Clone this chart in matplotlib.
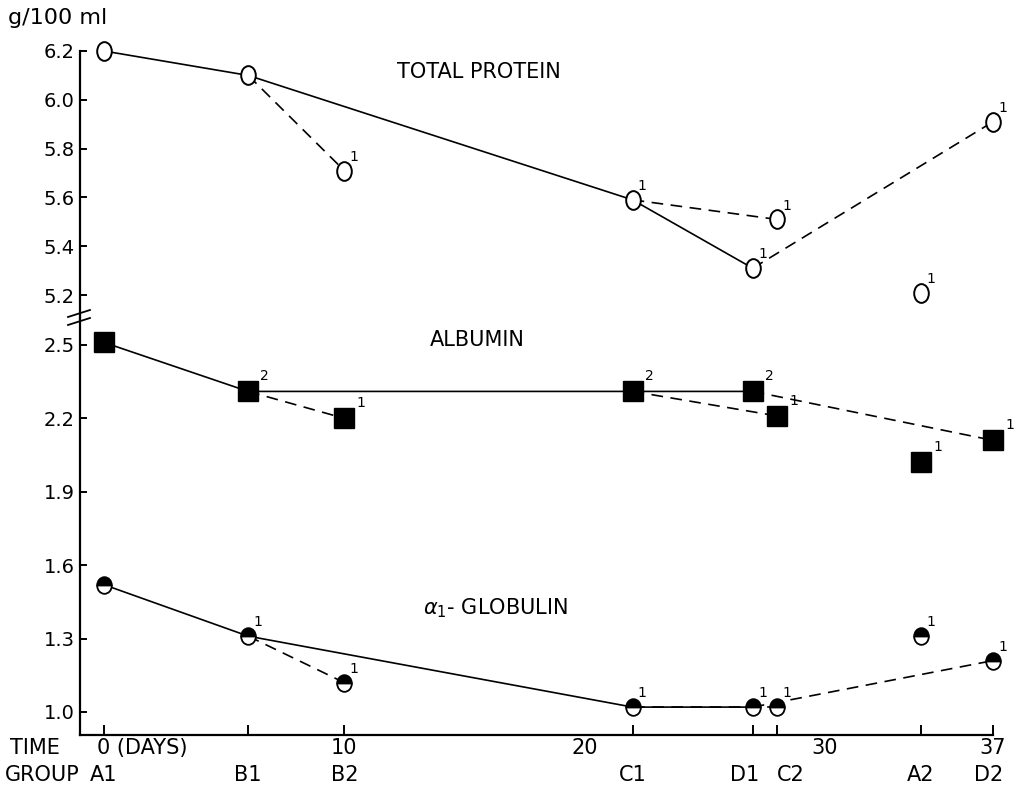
import numpy as np
import matplotlib
matplotlib.use("Agg")
import matplotlib.pyplot as plt
from matplotlib.markers import MarkerStyle
from matplotlib.transforms import Affine2D, blended_transform_factory

# serum protein fractions (g/100 ml) per group, sampled at the given day
days = [0, 6, 10, 22, 27, 28, 34, 37]
groups = ["A1", "B1", "B2", "C1", "D1", "C2", "A2", "D2"]
protein = [6.20, 6.10, 5.71, 5.59, 5.31, 5.51, 5.21, 5.91]
albumin = [2.51, 2.31, 2.20, 2.31, 2.31, 2.21, 2.02, 2.11]
globulin = [1.52, 1.31, 1.12, 1.02, 1.02, 1.02, 1.31, 1.21]
# small numbers written next to each point
protein_n = ["", "", "1", "1", "1", "1", "1", "1"]
albumin_n = ["", "2", "1", "2", "2", "1", "1", "1"]
globulin_n = ["", "1", "1", "1", "1", "1", "1", "1"]

solid_path = [0, 1, 3, 4]            # A1 -> B1 -> C1 -> D1
dashed_pairs = [(1, 2), (3, 5), (4, 7)]  # B1->B2, C1->C2, D1->D2

time_ticks = [0, 10, 20, 30, 37]
time_labels = ["0 (DAYS)", "10", "20", "30", "37"]
# nudge for group labels that sit close together (in days)
group_shift = [0, 0, 0, 0, -0.35, 0.6, 0, -0.2]

plt.rcParams["font.family"] = "DejaVu Sans"

fig = plt.figure(figsize=(10.15, 7.91), dpi=100)
W, H = 1015.0, 791.0
left, right = 80 / W, 993 / W
ax_t = fig.add_axes([left, (H - 318) / H, right - left, (318 - 51) / H])
ax_b = fig.add_axes([left, (H - 735) / H, right - left, (735 - 318) / H], sharex=ax_t)

ax_t.set_ylim(5.106, 6.2)
ax_b.set_ylim(0.906, 2.61)
ax_b.set_xlim(-1, 37)

for ax in (ax_t, ax_b):
    ax.spines["top"].set_visible(False)
    ax.spines["right"].set_visible(False)
    ax.spines["left"].set_linewidth(1.6)
    ax.spines["bottom"].set_linewidth(1.6)
    ax.tick_params(axis="y", direction="in", length=5, width=1.4,
                   labelsize=14, pad=4)
ax_t.spines["bottom"].set_visible(False)
ax_t.tick_params(axis="x", bottom=False, labelbottom=False)

ax_t.set_yticks([5.2, 5.4, 5.6, 5.8, 6.0, 6.2])
ax_t.set_yticklabels(["5.2", "5.4", "5.6", "5.8", "6.0", "6.2"])
ax_b.set_yticks([1.0, 1.3, 1.6, 1.9, 2.2, 2.5])
ax_b.set_yticklabels(["1.0", "1.3", "1.6", "1.9", "2.2", "2.5"])

ax_b.set_xticks(days)
ax_b.set_xticklabels([])
ax_b.tick_params(axis="x", direction="in", length=7, width=1.4)

# axis break on the y spine
for dy in (-4, 4):
    fig.add_artist(plt.Line2D([68 / W, 90 / W],
                              [(H - 321 - dy) / H, (H - 314 - dy) / H],
                              color="k", lw=1.3))

oval = MarkerStyle("o", transform=Affine2D().scale(0.78, 1.0))
half = MarkerStyle("o", fillstyle="top", transform=Affine2D().scale(0.88, 1.0))
lw = 1.2
dash = (0, (7, 4.5))


def draw_series(ax, vals, labels, marker_kw, offset):
    x = np.array(days)
    y = np.array(vals)
    ax.plot(x[solid_path], y[solid_path], color="k", lw=lw, zorder=2,
            clip_on=False)
    for i, j in dashed_pairs:
        ax.plot([x[i], x[j]], [y[i], y[j]], color="k", lw=lw, ls=dash,
                zorder=2, clip_on=False)
    ax.plot(x, y, ls="none", zorder=3, clip_on=False, **marker_kw)
    for xi, yi, lab in zip(x, y, labels):
        if lab:
            ax.annotate(lab, (xi, yi), xytext=offset, textcoords="offset points",
                        fontsize=10, ha="center", va="center",
                        annotation_clip=False)


draw_series(ax_t, protein, protein_n,
            dict(marker=oval, ms=13.5, mfc="white", mec="k", mew=1.4), (7, 10))
draw_series(ax_b, albumin, albumin_n,
            dict(marker="s", ms=15, mfc="k", mec="k", mew=1), (12, 11))
draw_series(ax_b, globulin, globulin_n,
            dict(marker=half, ms=12, mfc="k", mfcalt="white", mec="k", mew=1.3),
            (7, 10))

ax_t.text(15.6, 6.114, "TOTAL PROTEIN", fontsize=15, ha="center", va="center")
ax_b.text(15.55, 2.52, "ALBUMIN", fontsize=15, ha="center", va="center")
ax_b.text(16.3, 1.425, r"$\alpha_1$- GLOBULIN", fontsize=15, ha="center",
          va="center")

# time and group rows under the axis
tr = blended_transform_factory(ax_b.transData, fig.transFigure)
ty = (H - 748) / H
gy = (H - 775) / H
fig.text(10 / W, ty, "TIME", fontsize=15, ha="left", va="center")
fig.text(5 / W, gy, "GROUP", fontsize=15, ha="left", va="center")
for t, lab in zip(time_ticks, time_labels):
    if t == 0:
        ax_b.text(-0.3, ty, lab, transform=tr, fontsize=15, ha="left",
                  va="center")
    else:
        ax_b.text(t, ty, lab, transform=tr, fontsize=15, ha="center",
                  va="center")
for d, g, s in zip(days, groups, group_shift):
    ax_b.text(d + s, gy, g, transform=tr, fontsize=15, ha="center",
              va="center")

fig.text(8 / W, (H - 18) / H, "g/100 ml", fontsize=16, ha="left",
         va="center")

fig.savefig("out.png", dpi=100)
